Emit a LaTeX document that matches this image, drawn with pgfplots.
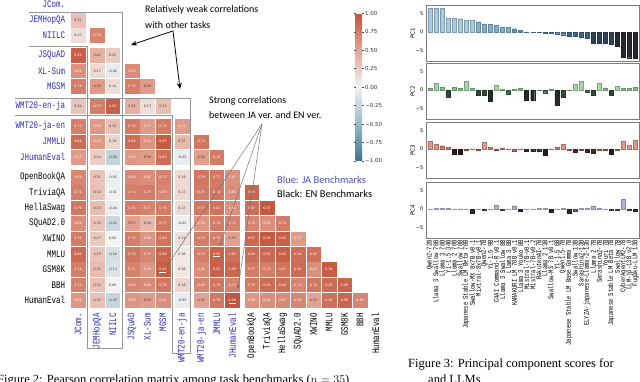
\documentclass[border=0pt]{standalone}
\usepackage{pgfplots}
\pgfplotsset{compat=1.18}
\usepackage{pgfplotstable}
\usepackage{fontspec}
\setmainfont{Carlito}
\newfontfamily\monof[FakeStretch=0.75]{Liberation Mono}
\newfontfamily\labf{DejaVu Sans}
\newfontfamily\capf{Liberation Serif}
\usetikzlibrary{arrows.meta}

\definecolor{jablue}{RGB}{45,45,185}
\definecolor{txtdark}{RGB}{60,60,60}
\definecolor{boxgray}{RGB}{150,150,150}
\definecolor{framegray}{RGB}{125,125,125}
% bar colours of the four score panels
\definecolor{b1}{RGB}{168,204,226}
\definecolor{b2}{RGB}{130,178,210}
\definecolor{b3}{RGB}{105,155,192}
\definecolor{b4}{RGB}{80,130,168}
\definecolor{b5}{RGB}{60,102,138}
\definecolor{b6}{RGB}{45,68,88}
\definecolor{b7}{RGB}{38,42,48}
\definecolor{g1}{RGB}{165,215,168}
\definecolor{g2}{RGB}{135,195,140}
\definecolor{g3}{RGB}{110,170,115}
\definecolor{g4}{RGB}{60,105,70}
\definecolor{g5}{RGB}{45,75,55}
\definecolor{g6}{RGB}{35,45,40}
\definecolor{r1}{RGB}{230,150,135}
\definecolor{r2}{RGB}{220,125,105}
\definecolor{r3}{RGB}{190,85,65}
\definecolor{r4}{RGB}{70,40,38}
\definecolor{r5}{RGB}{40,30,30}
\definecolor{p1}{RGB}{178,178,232}
\definecolor{p2}{RGB}{195,195,240}
\definecolor{p3}{RGB}{70,70,80}
\definecolor{p4}{RGB}{40,40,45}
\newcommand{\ja}[1]{\textcolor{jablue}{#1}}

% correlation matrix, lower triangle: row, column, r
\pgfplotstableread{
r c v
1 0 0.32
2 0 0.13
2 1 0.70
3 0 0.92
3 1 0.42
3 2 0.25
4 0 0.62
4 1 0.17
4 2 -0.06
4 3 0.66
5 0 0.74
5 1 0.56
5 2 0.14
5 3 0.74
5 4 0.56
6 0 0.30
6 1 0.73
6 2 0.93
6 3 0.42
6 4 0.13
6 5 0.34
7 0 0.73
7 1 0.58
7 2 0.33
7 3 0.76
7 4 0.57
7 5 0.76
7 6 0.57
8 0 0.84
8 1 0.58
8 2 0.19
8 3 0.84
8 4 0.61
8 5 0.95
8 6 0.37
8 7 0.79
9 0 0.57
9 1 0.24
9 2 -0.26
9 3 0.58
9 4 0.56
9 5 0.83
9 6 -0.05
9 7 0.54
9 8 0.76
10 0 0.69
10 1 0.31
10 2 -0.03
10 3 0.68
10 4 0.65
10 5 0.72
10 6 0.16
10 7 0.79
10 8 0.77
10 9 0.62
11 0 0.74
11 1 0.32
11 2 -0.01
11 3 0.73
11 4 0.75
11 5 0.69
11 6 0.17
11 7 0.75
11 8 0.78
11 9 0.65
11 10 0.89
12 0 0.79
12 1 0.33
12 2 -0.04
12 3 0.75
12 4 0.71
12 5 0.76
12 6 0.15
12 7 0.77
12 8 0.82
12 9 0.62
12 10 0.83
12 11 0.97
13 0 0.66
13 1 0.30
13 2 -0.22
13 3 0.53
13 4 0.38
13 5 0.77
13 6 -0.02
13 7 0.59
13 8 0.74
13 9 0.71
13 10 0.70
13 11 0.63
13 12 0.74
14 0 0.76
14 1 0.27
14 2 0.00
14 3 0.74
14 4 0.60
14 5 0.80
14 6 0.14
14 7 0.73
14 8 0.73
14 9 0.53
14 10 0.87
14 11 0.96
14 12 0.92
14 13 0.57
15 0 0.86
15 1 0.29
15 2 -0.16
15 3 0.79
15 4 0.70
15 5 0.88
15 6 0.06
15 7 0.73
15 8 0.91
15 9 0.83
15 10 0.84
15 11 0.87
15 12 0.92
15 13 0.84
15 14 0.82
16 0 0.74
16 1 0.35
16 2 -0.13
16 3 0.71
16 4 0.59
16 5 0.94
16 6 0.08
16 7 0.66
16 8 0.91
16 9 0.89
16 10 0.75
16 11 0.73
16 12 0.81
16 13 0.85
16 14 0.63
16 15 0.94
17 0 0.72
17 1 0.32
17 2 0.00
17 3 0.69
17 4 0.66
17 5 0.78
17 6 0.18
17 7 0.69
17 8 0.79
17 9 0.72
17 10 0.76
17 11 0.85
17 12 0.84
17 13 0.70
17 14 0.78
17 15 0.85
17 16 0.90
18 0 0.59
18 1 0.32
18 2 -0.25
18 3 0.59
18 4 0.55
18 5 0.64
18 6 -0.05
18 7 0.52
18 8 0.78
18 9 0.98
18 10 0.60
18 11 0.64
18 12 0.67
18 13 0.69
18 14 0.52
18 15 0.83
18 16 0.89
18 17 0.69
}\corr

% principal component scores, 35 models
\pgfplotstableread{
i pc1 pc2 pc3 pc4
0 6.5 0.6 2.1 0.03
1 6.5 1.8 1.2 0.25
2 6.4 0.7 0.9 0.3
3 3.8 -2.0 0.45 0.25
4 3.8 0.7 -1.3 0.03
5 3.6 0.45 -1.3 0.03
6 3.3 2.4 -0.35 0.03
7 3.2 0.45 0.05 -1.1
8 2.8 -1.5 -0.3 0.03
9 2.2 -1.5 1.9 -0.3
10 2.0 -3.0 0.45 0.03
11 1.9 1.2 -0.35 1.1
12 1.4 0.35 0.3 -0.25
13 1.2 -1.0 0.05 0.03
14 0.9 0.35 -0.45 0.9
15 0.4 0.45 0.05 -0.6
16 0.05 -2.7 -0.6 0.03
17 -0.05 -2.7 -0.6 0.03
18 -0.1 0.05 -0.6 0.25
19 -0.25 -0.7 -1.7 0.25
20 -0.25 0.3 0.05 -0.9
21 -0.45 -4.0 0.5 0.03
22 -0.7 -2.0 1.2 0.2
23 -1.0 0.05 -0.35 -1.1
24 -1.2 1.6 -0.8 -0.45
25 -1.3 2.5 -0.3 0.2
26 -1.6 -0.5 -0.9 0.35
27 -3.0 -1.4 -1.1 0.8
28 -3.0 1.8 -0.35 0.25
29 -3.0 0.6 -0.35 0.03
30 -3.2 -1.3 -1.5 -0.35
31 -3.9 1.1 -0.2 -0.35
32 -6.7 0.45 2.1 2.7
33 -6.9 0.6 1.0 -0.4
34 -7.1 0.7 2.3 -0.6
}\pcs

% one group of bars of a score panel: column, lower bound, upper bound, colour
\newcommand{\pcbin}[4]{%
  \addplot[ybar, bar width=4pt, bar shift=0pt, fill=#4, draw=#4!75!black, line width=0.3pt,
    restrict expr to domain={\thisrow{#1}}{#2:#3}] table[x=i, y=#1] {\pcs};}

\pgfplotsset{
  pcax/.style={scale only axis, width=213pt, height=56pt,
    xmin=-0.63, xmax=34.58, ymin=-7.8, ymax=7.3,
    axis line style={draw=framegray, line width=0.9pt},
    xtick=\empty, ytick={-5,0,5}, yticklabels={−5,0,5},
    yticklabel style={font=\labf\fontsize{5}{6}\selectfont, inner sep=0pt},
    yticklabel shift=2.5pt, tick style={draw=none},
    ylabel style={font=\labf\fontsize{5.5}{6}\selectfont, inner sep=0pt},
    ylabel shift=1pt},
  celltext/.style={draw=none, mark=none, point meta=explicit symbolic,
    nodes near coords,
    every node near coord/.append style={anchor=center, inner sep=0pt,
      font=\labf\fontsize{3.3}{4}\selectfont, text=#1}},
}

\begin{document}
\begin{tikzpicture}

% ---------------- correlation heatmap ----------------
\begin{axis}[
  at={(70.25pt,382pt)}, anchor=north west,
  scale only axis, width=313.1pt, height=308pt,
  xmin=-0.5, xmax=19.7, ymin=-0.3, ymax=19.7, y dir=reverse,
  axis line style={draw=none}, tick style={draw=none},
  xtick={0,1.24,2.24,3.48,4.48,5.48,6.72,7.96,8.96,9.96,11.2,12.2,13.2,14.2,15.2,16.2,17.2,18.2,19.2},
  ytick={0,1,2,3.3,4.3,5.3,6.6,7.9,8.9,9.9,11.2,12.2,13.2,14.2,15.2,16.2,17.2,18.2,19.2},
  xticklabels={\ja{JCom.},\ja{JEMHopQA},\ja{NIILC},\ja{JSQuAD},\ja{XL-Sum},\ja{MGSM},\ja{WMT20-en-ja},\ja{WMT20-ja-en},\ja{JMMLU},\ja{JHumanEval},OpenBookQA,TriviaQA,HellaSwag,SQuAD2.0,XWINO,MMLU,GSM8K,BBH,HumanEval},
  yticklabels={\ja{JCom.},\ja{JEMHopQA},\ja{NIILC},\ja{JSQuAD},\ja{XL-Sum},\ja{MGSM},\ja{WMT20-en-ja},\ja{WMT20-ja-en},\ja{JMMLU},\ja{JHumanEval},OpenBookQA,TriviaQA,HellaSwag,SQuAD2.0,XWINO,MMLU,GSM8K,BBH,HumanEval},
  x tick label style={rotate=90, anchor=east, inner sep=0pt, font=\monof\fontsize{10}{10}\selectfont},
  y tick label style={anchor=east, inner sep=0pt, font=\monof\fontsize{10}{10}\selectfont},
  xticklabel shift=5pt, yticklabel shift=5pt,
  colormap={corr}{rgb255=(59,117,145) rgb255=(150,185,200) rgb255=(242,242,242) rgb255=(228,165,148) rgb255=(195,83,58)},
  point meta min=-1, point meta max=1,
  colorbar,
  colorbar style={at={(347pt,368.7pt)}, anchor=north west, scale only axis,
    width=6.5pt, height=147.7pt,
    ytick={-1,-0.75,-0.5,-0.25,0,0.25,0.5,0.75,1},
    yticklabels={−1.00,−0.75,−0.50,−0.25,0.00,0.25,0.50,0.75,1.00},
    yticklabel style={font=\labf\fontsize{5.5}{6}\selectfont, text=black!80, inner sep=1pt},
    axis line style={draw=none}, tick align=outside, major tick length=2pt,
    ytick style={draw=black!70, line width=0.4pt}},
]
\addplot[scatter, only marks, mark=square*, mark size=6.8pt,
  scatter/use mapped color={draw=mapped color, fill=mapped color},
  mark options={line width=0.4pt},
  point meta=\thisrow{v},
] table[
  x expr={\thisrow{c}+0.24*((\thisrow{c}>0.5)+(\thisrow{c}>2.5)+(\thisrow{c}>5.5)+(\thisrow{c}>6.5)+(\thisrow{c}>9.5))},
  y expr={\thisrow{r}+0.3*((\thisrow{r}>2.5)+(\thisrow{r}>5.5)+(\thisrow{r}>6.5)+(\thisrow{r}>9.5))},
] {\corr};
% cell values: dark text on light cells, white text on strong cells
\addplot[celltext=txtdark, restrict expr to domain={\thisrow{v}}{-2:0.565}] table[
  x expr={\thisrow{c}+0.24*((\thisrow{c}>0.5)+(\thisrow{c}>2.5)+(\thisrow{c}>5.5)+(\thisrow{c}>6.5)+(\thisrow{c}>9.5))},
  y expr={\thisrow{r}+0.3*((\thisrow{r}>2.5)+(\thisrow{r}>5.5)+(\thisrow{r}>6.5)+(\thisrow{r}>9.5))},
  meta=v] {\corr};
\addplot[celltext=white, restrict expr to domain={\thisrow{v}}{0.565:2}] table[
  x expr={\thisrow{c}+0.24*((\thisrow{c}>0.5)+(\thisrow{c}>2.5)+(\thisrow{c}>5.5)+(\thisrow{c}>6.5)+(\thisrow{c}>9.5))},
  y expr={\thisrow{r}+0.3*((\thisrow{r}>2.5)+(\thisrow{r}>5.5)+(\thisrow{r}>6.5)+(\thisrow{r}>9.5))},
  meta=v] {\corr};
% underlined pairs (JA version vs EN version)
\addplot[draw=none, mark=none, point meta=explicit symbolic, nodes near coords,
  every node near coord/.append style={anchor=center, inner sep=0pt, yshift=-2.6pt, fill=white, minimum width=7pt, minimum height=0.5pt, font=\fontsize{1}{1}\selectfont}]
  coordinates {(5.48,17.2) [ ] (8.96,16.2) [ ] (9.96,19.2) [ ]};
\end{axis}

% group frames
\draw[boxgray, line width=0.8pt] (29pt,370pt) -- (122pt,370pt) -- (122pt,34pt) -- (87pt,34pt) -- (87pt,336pt) -- (29pt,336pt);
\draw[boxgray, line width=0.8pt] (15pt,284pt) -- (190pt,284pt) -- (190pt,29pt) -- (172pt,29pt) -- (172pt,267pt) -- (15pt,267pt);

% annotations
\node[anchor=west, font=\fontsize{10}{12}\selectfont, inner sep=0pt] at (145pt,372pt) {Relatively weak correlations};
\node[anchor=west, font=\fontsize{10}{12}\selectfont, inner sep=0pt] at (145pt,357pt) {with other tasks};
\draw[line width=0.8pt, -{Stealth[length=6pt,width=5pt]}] (173pt,351pt) -- (131pt,337pt);
\draw[line width=0.8pt, -{Stealth[length=6pt,width=5pt]}] (173pt,351pt) -- (180pt,293pt);

\node[anchor=west, font=\fontsize{10}{12}\selectfont, inner sep=0pt] at (209pt,281pt) {Strong correlations};
\node[anchor=west, font=\fontsize{10}{12}\selectfont, inner sep=0pt] at (209pt,267pt) {between JA ver. and EN ver.};
\draw[black!55, line width=0.5pt, -{Stealth[length=4pt,width=3pt]}] (262pt,258pt) -- (167pt,116pt);
\draw[black!55, line width=0.5pt, -{Stealth[length=4pt,width=3pt]}] (262pt,258pt) -- (220pt,136pt);
\draw[black!55, line width=0.5pt, -{Stealth[length=4pt,width=3pt]}] (262pt,258pt) -- (238pt,93pt);

\node[anchor=west, font=\fontsize{10.5}{12}\selectfont, inner sep=0pt, text=jablue!85] at (277pt,202pt) {Blue: JA Benchmarks};
\node[anchor=west, font=\fontsize{10.5}{12}\selectfont, inner sep=0pt] at (277pt,188pt) {Black: EN Benchmarks};

% captions (the lower line is cut by the page edge, as in the source)
\node[anchor=base west, inner sep=0pt, font=\capf\fontsize{12.5}{14}\selectfont] at (408pt,14pt) {Figure 3: Principal component scores for};
\node[anchor=base west, inner sep=0pt, font=\capf\fontsize{12.5}{14}\selectfont] at (-3pt,-1.5pt) {Figure 2: Pearson correlation matrix among task benchmarks ($n=35$)};
\node[anchor=base west, inner sep=0pt, font=\capf\fontsize{12.5}{14}\selectfont] at (428pt,-1.5pt) {and LLMs};

% ---------------- principal component scores ----------------
\begin{axis}[pcax, at={(426pt,377pt)}, anchor=north west, ylabel={PC1}]
\pcbin{pc1}{3}{10}{b1}
\pcbin{pc1}{1}{2.99}{b2}
\pcbin{pc1}{0.2}{0.99}{b3}
\pcbin{pc1}{-0.79}{0.19}{b4}
\pcbin{pc1}{-2}{-0.8}{b5}
\pcbin{pc1}{-3.5}{-2.01}{b6}
\pcbin{pc1}{-10}{-3.51}{b7}
\end{axis}
\begin{axis}[pcax, at={(426pt,319pt)}, anchor=north west, ylabel={PC2}]
\pcbin{pc2}{1}{5}{g1}
\pcbin{pc2}{0.2}{0.99}{g2}
\pcbin{pc2}{0}{0.19}{g3}
\pcbin{pc2}{-1.19}{-0.01}{g4}
\pcbin{pc2}{-2.2}{-1.2}{g5}
\pcbin{pc2}{-5}{-2.21}{g6}
\end{axis}
\begin{axis}[pcax, at={(426pt,260pt)}, anchor=north west, ylabel={PC3}]
\pcbin{pc3}{1}{5}{r1}
\pcbin{pc3}{0}{0.99}{r2}
\pcbin{pc3}{-0.49}{-0.01}{r3}
\pcbin{pc3}{-1.19}{-0.5}{r4}
\pcbin{pc3}{-5}{-1.2}{r5}
\end{axis}
\begin{axis}[pcax, at={(426pt,200pt)}, anchor=north west, ylabel={PC4},
  xtick={0,...,34},
  xticklabels={Qwen2-72B,Llama 3 Swallow 70B,Llama 3 70B,Yi-1.5 34B,Llama 2 70B,Swallow 70B,Japanese Stable LM Beta 70B,Swallow-MX 8x7B v0.1,Mixtral-8x7B-v0.1,Qwen2-7B,Yi-1.5 9B,C4AI Command-R v0.1,Llama 3 Swallow 8B,Llama 3 8B,KARAKURI LM 70B v0.1,Llama 3 Youko 8B,Mistral-7B-v0.1,Mistral-7B-v0.2,RakutenAI-7B,Llama 2 13B,Swallow-MS 7B v0.1,Yi-1.5 6B,Qwen1.5-7B,Japanese Stable LM Base Gamma 7B,Swallow 13B,Sarashina2-13B,ELYZA-japanese-Llama-2-13b,Llama 2 7B,Sarashina2-7B,Youri 7B,Japanese Stable LM Beta 7B,Swallow 7B,CyberAgentLM2-7B,LLM-jp-13B v2.0,Fugaku-LLM 13B},
  x tick label style={rotate=90, anchor=east, inner sep=0pt, font=\monof\fontsize{7.3}{7.3}\selectfont},
  xticklabel shift=2pt]
\pcbin{pc4}{0.6}{5}{p1}
\pcbin{pc4}{0}{0.59}{p2}
\pcbin{pc4}{-0.49}{-0.01}{p3}
\pcbin{pc4}{-5}{-0.5}{p4}
\end{axis}

\pgfresetboundingbox
\path[use as bounding box] (0pt,0pt) rectangle (640pt,382pt);
\end{tikzpicture}
\end{document}
